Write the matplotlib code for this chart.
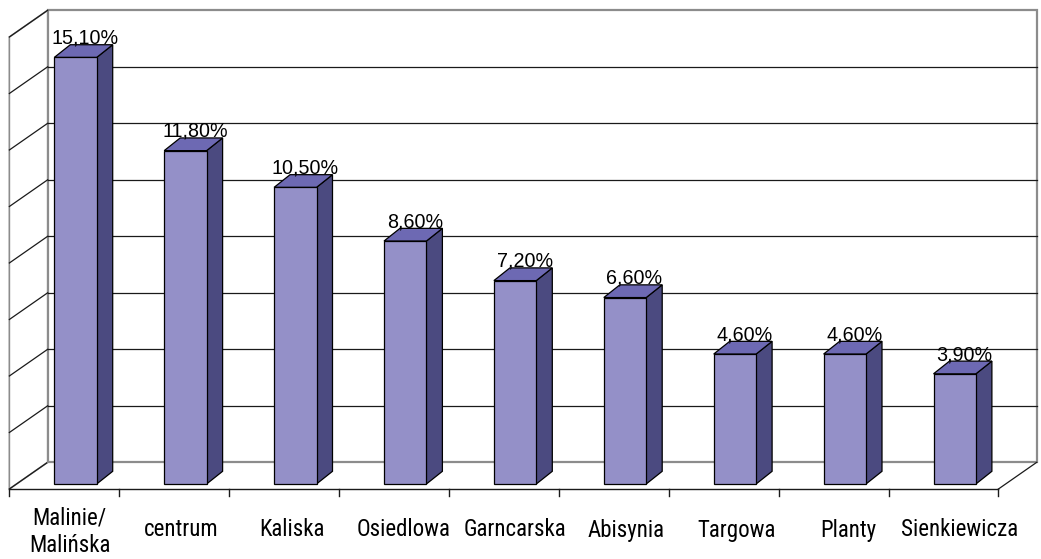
import matplotlib
matplotlib.use("Agg")
import matplotlib.pyplot as plt
from matplotlib.patches import Polygon
from matplotlib import font_manager

categories = ["Malinie/\nMalińska", "centrum", "Kaliska", "Osiedlowa", "Garncarska",
              "Abisynia", "Targowa", "Planty", "Sienkiewicza"]
values = [15.10, 11.80, 10.50, 8.60, 7.20, 6.60, 4.60, 4.60, 3.90]
value_labels = ["15,10%", "11,80%", "10,50%", "8,60%", "7,20%", "6,60%", "4,60%", "4,60%", "3,90%"]
y_max = 16
y_step = 2


def has_font(name, stretch="normal"):
    try:
        p = font_manager.FontProperties(family=name, stretch=stretch)
        f = font_manager.findfont(p, fallback_to_default=False)
        return f
    except Exception:
        return None


narrow_family, narrow_size = None, 14.0
for cand in ["Liberation Sans Narrow", "Arial Narrow", "Roboto Condensed", "Open Sans Condensed"]:
    if has_font(cand):
        narrow_family, narrow_size = cand, 16.5
        break
if narrow_family is None:
    fpath = has_font("DejaVu Sans", "condensed")
    if fpath and "Condensed" in fpath:
        narrow_family, narrow_size = "DejaVu Sans", 14.6
    else:
        narrow_family, narrow_size = "Liberation Sans", 14.3
narrow_stretch = "condensed" if narrow_family == "DejaVu Sans" else "normal"
regular = "Liberation Sans"

W, H = 1041, 559
fig = plt.figure(figsize=(W / 100, H / 100), dpi=100)
ax = fig.add_axes([0, 0, 1, 1])

px_x = 109.9
px_y = 28.25
x0_px, y0_px = 64.3, 489.0
ax.set_xlim((0 - x0_px) / px_x, (W - x0_px) / px_x)
ax.set_ylim((y0_px - H) / px_y, y0_px / px_y)
ax.axis("off")

n = len(categories)
DX, DY = 38.3 / px_x, 26.7 / px_y
left, right = -0.5, n - 0.5

wall_col = "#8c8c8c"
grid_col = "#1a1a1a"

ax.add_patch(Polygon([(left + DX, DY), (right + DX, DY), (right + DX, y_max + DY), (left + DX, y_max + DY)],
                     closed=True, facecolor="white", edgecolor=wall_col, lw=1.6, zorder=1))
ax.add_patch(Polygon([(left, 0), (left + DX, DY), (left + DX, y_max + DY), (left, y_max)],
                     closed=True, facecolor="white", edgecolor=wall_col, lw=1.2, zorder=1))
for g in range(0, y_max + 1, y_step):
    if 0 < g < y_max:
        ax.plot([left + DX, right + DX], [g + DY, g + DY], color=grid_col, lw=0.9, zorder=2)
    ax.plot([left, left + DX], [g, g + DY], color=grid_col, lw=0.9, zorder=2)
ax.plot([left + DX, right + DX], [DY, DY], color=wall_col, lw=1.4, zorder=2)
ax.plot([right, right + DX], [0, DY], color=grid_col, lw=0.9, zorder=2)
ax.plot([left, right], [0, 0], color=grid_col, lw=1.0, zorder=2)
tick_len = 7 / px_y
for k in range(n + 1):
    ax.plot([left + k, left + k], [0, -tick_len], color=grid_col, lw=1.0, zorder=2)

front_col = "#9490C8"
top_col = "#6D69B3"
side_col = "#4B4A80"
bar_shift = 11.2 / px_x
bar_bottom = 5.0 / px_y
bar_w = 42.4 / px_x
bdx, bdy = 16.0 / px_x, 12.7 / px_y

xs = [i + bar_shift for i in range(n)]
ax.bar(xs, values, width=bar_w, bottom=bar_bottom, color=front_col, edgecolor="black", lw=0.9, zorder=4)
for x, v, lab in zip(xs, values, value_labels):
    xl, xr = x - bar_w / 2, x + bar_w / 2
    yb, yt = bar_bottom, bar_bottom + v
    ax.add_patch(Polygon([(xr, yb), (xr + bdx, yb + bdy), (xr + bdx, yt + bdy), (xr, yt)],
                         closed=True, facecolor=side_col, edgecolor="black", lw=0.9, zorder=3))
    ax.add_patch(Polygon([(xl, yt), (xl + bdx, yt + bdy), (xr + bdx, yt + bdy), (xr, yt)],
                         closed=True, facecolor=top_col, edgecolor="black", lw=0.9, zorder=3))
    ax.text(x + bdx / 2 + 1.5 / px_x, yt + bdy + 1.0 / px_y, lab, ha="center", va="baseline",
            fontsize=14.2, family=[regular, "DejaVu Sans"], color="black", zorder=5)

for i, c in enumerate(categories):
    lx = i + (5.2 + 1.35 * i) / px_x
    ly = (y0_px - (532 if "\n" in c else 530)) / px_y
    ax.text(lx, ly, c, ha="center", va="center", fontsize=narrow_size,
            family=narrow_family, stretch=narrow_stretch, color="black",
            linespacing=1.25, zorder=5)

fig.savefig("out.png", dpi=100)
